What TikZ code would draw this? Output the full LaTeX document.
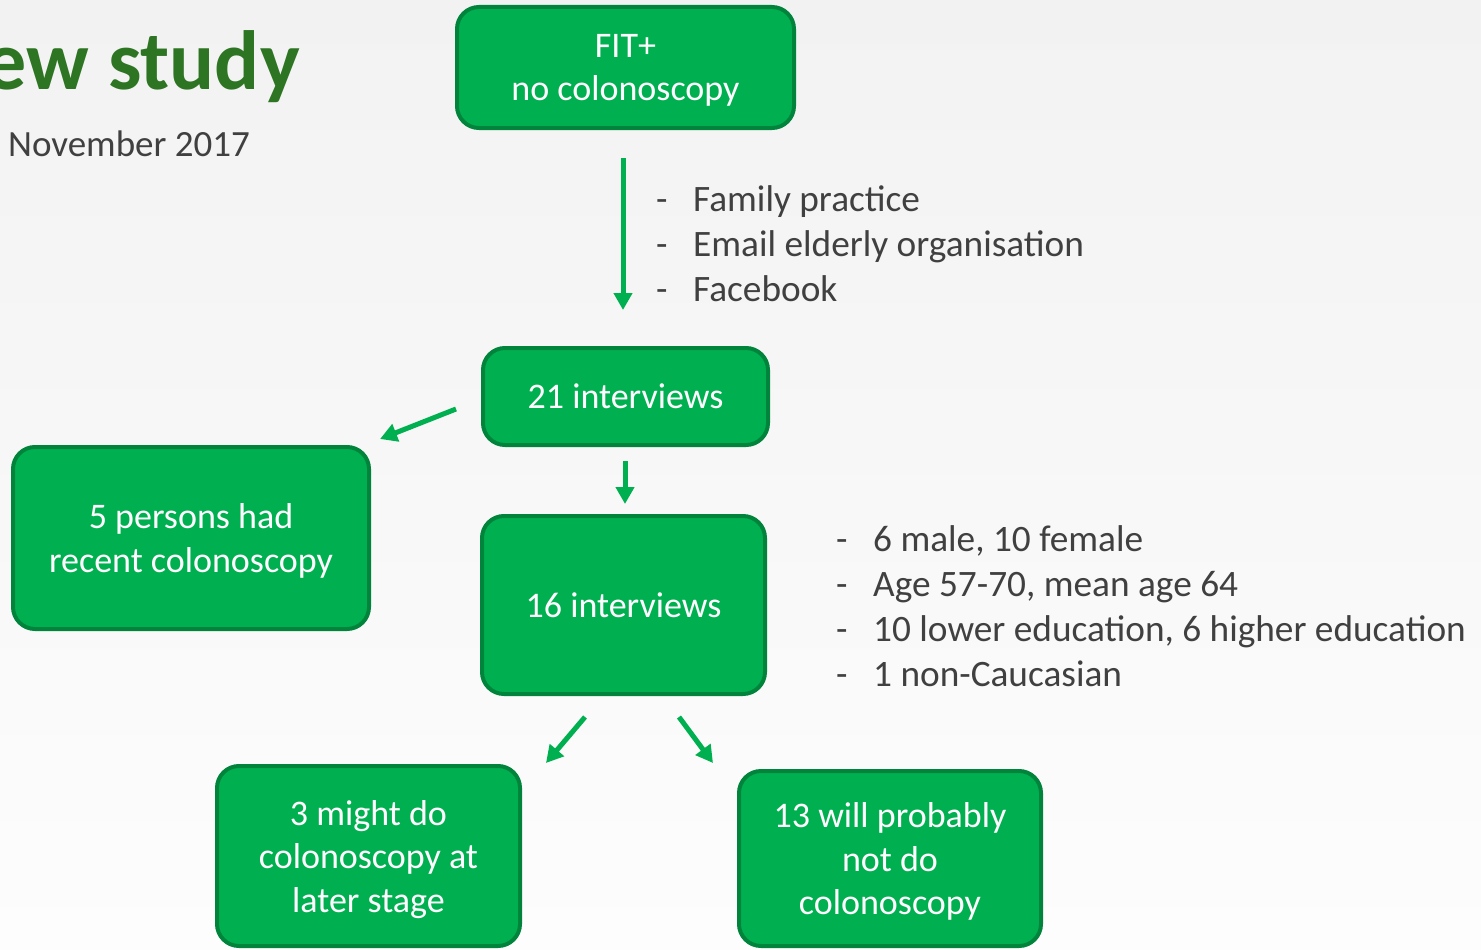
\documentclass[tikz,border=0pt]{standalone}
\usepackage{fontspec}
\setmainfont{Carlito}
\usetikzlibrary{arrows.meta}
\definecolor{boxfill}{HTML}{00B050}
\definecolor{boxline}{HTML}{00843C}
\definecolor{titlegreen}{HTML}{2E7523}
\definecolor{textgray}{HTML}{404040}
\definecolor{bgtop}{HTML}{F2F2F2}
\definecolor{bgbottom}{HTML}{FDFDFD}
\newcommand{\bul}{\makebox[37pt][l]{-}}
\begin{document}
\begin{tikzpicture}[x=1pt,y=-1pt,
  flowbox/.style={draw=boxline, fill=boxfill, line width=4pt, rounded corners=22pt,
    text=white, align=center, font=\fontsize{36}{43.5}\selectfont, inner sep=0pt,
    text depth=-1pt},
  flowarrow/.style={draw=boxfill, line width=5pt, -{Triangle[width=18pt,length=17pt]}},
  note/.style={text=textgray, font=\fontsize{37.3}{45}\selectfont, align=left,
    anchor=west, inner sep=0pt}]
\clip (0,0) rectangle (1481,950);
\shade[top color=bgtop, bottom color=bgbottom] (0,0) rectangle (1481,950);

% heading
\node[anchor=base east, inner sep=0pt, text=titlegreen,
  font=\fontsize{84}{90}\selectfont\bfseries] (title) at (300,89) {ew study};
\node[anchor=base west, inner sep=0pt, text=textgray,
  font=\fontsize{37}{44}\selectfont] (date) at (8,156) {November 2017};

% flow boxes
\node[flowbox, minimum width=337pt, minimum height=121pt, text depth=-5pt] (fit)
  at (625.5,67.5) {FIT+\\no colonoscopy};
\node[flowbox, minimum width=285pt, minimum height=97pt, text depth=0pt] (i21)
  at (625.5,396.5) {21 interviews};
\node[flowbox, minimum width=356pt, minimum height=182pt] (recent) at (191,538)
  {5 persons had\\recent colonoscopy};
\node[flowbox, minimum width=283pt, minimum height=178pt, text depth=0pt] (i16)
  at (623.5,605) {16 interviews};
\node[flowbox, minimum width=303pt, minimum height=180pt, text depth=-12pt] (later)
  at (368.5,856) {3 might do\\colonoscopy at\\later stage};
\node[flowbox, minimum width=302pt, minimum height=175pt, text depth=-9pt] (never)
  at (890,858.5) {13 will probably\\not do\\colonoscopy};

% side notes
\node[note] (recruit) at (656,244)
  {\bul Family practice\\\bul Email elderly organisation\\\bul Facebook};
\node[note] (profile) at (836,606)
  {\bul 6 male, 10 female\\\bul Age 57-70, mean age 64\\
   \bul 10 lower education, 6 higher education\\\bul 1 non-Caucasian};

% arrows
\coordinate (a1s) at (623,158);  \coordinate (a1e) at (623,310);
\coordinate (a2s) at (456,409);  \coordinate (a2e) at (380,439);
\coordinate (a3s) at (625,461);  \coordinate (a3e) at (625,504);
\coordinate (a4s) at (585,717);  \coordinate (a4e) at (546,763);
\coordinate (a5s) at (679,717);  \coordinate (a5e) at (713,763);
\draw[flowarrow] (a1s) -- (a1e);
\draw[flowarrow] (a2s) -- (a2e);
\draw[flowarrow] (a3s) -- (a3e);
\draw[flowarrow] (a4s) -- (a4e);
\draw[flowarrow] (a5s) -- (a5e);
\end{tikzpicture}
\end{document}
